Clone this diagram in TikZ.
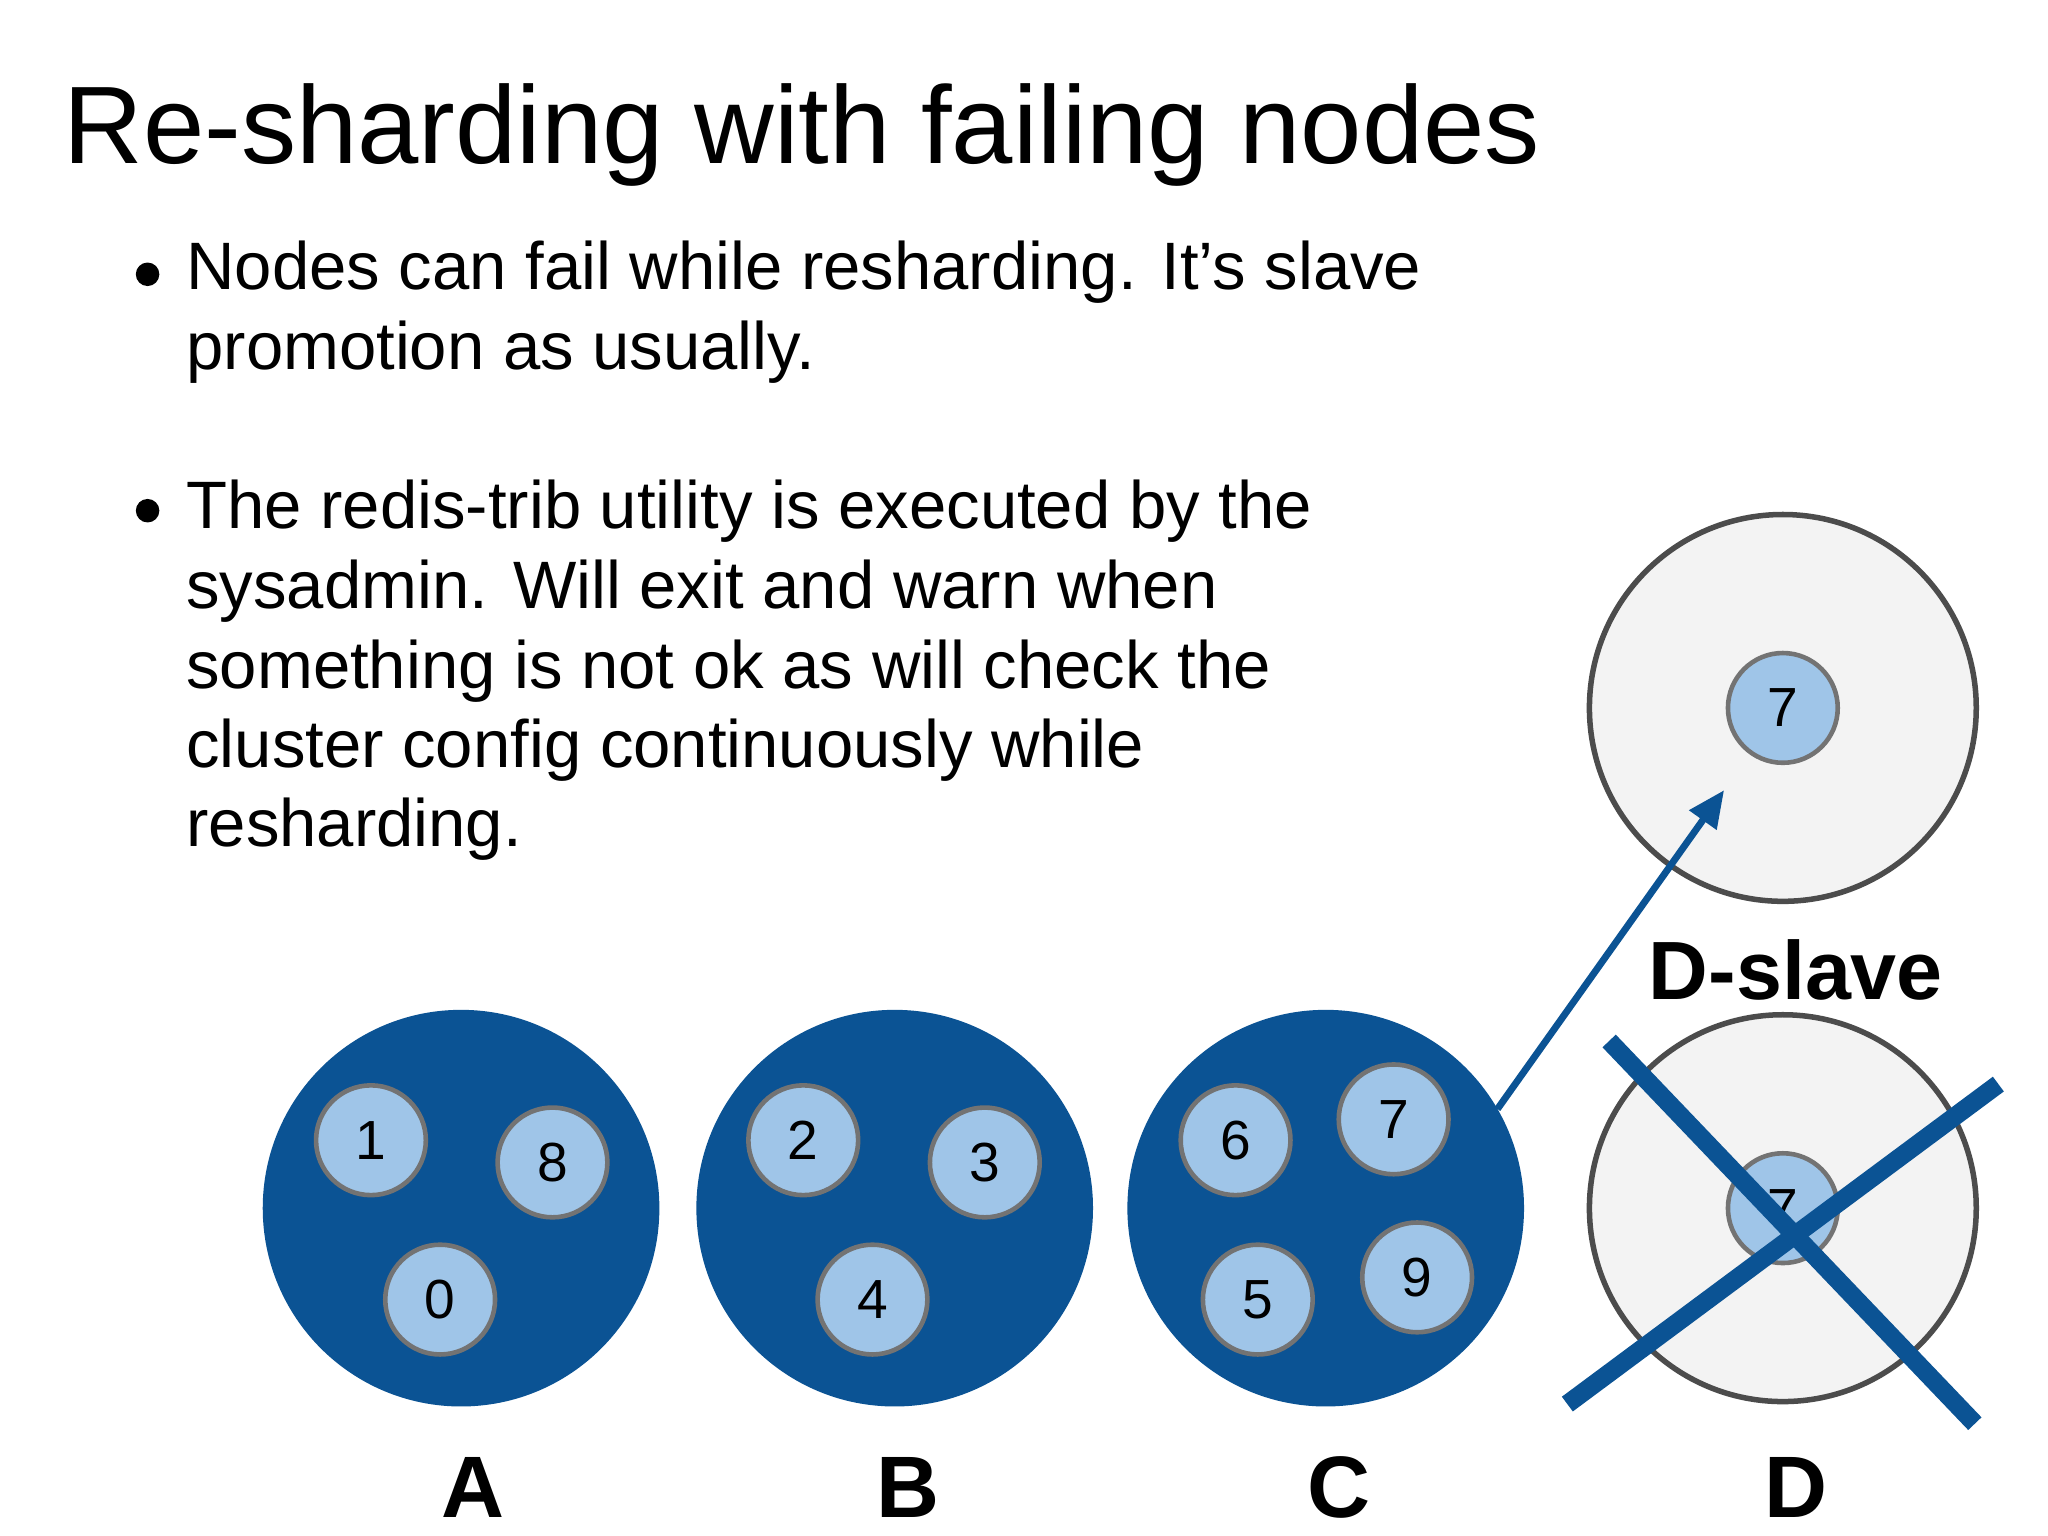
\documentclass[tikz,border=0pt]{standalone}
\usepackage{fontspec}
\setmainfont{Liberation Sans}
\usetikzlibrary{arrows.meta}
\definecolor{dblue}{HTML}{0B5394}
\definecolor{lblue}{HTML}{9FC5E8}
\definecolor{lgray}{HTML}{F3F3F3}
\begin{document}
\begin{tikzpicture}[x=0.01cm,y=-0.01cm,
 big/.style={circle,draw=dblue,line width=1pt,fill=dblue,minimum size=3cm,inner sep=0},
 dead/.style={circle,draw=black!70,line width=1.2pt,fill=lgray,minimum size=2.96cm,inner sep=0},
 sm/.style={circle,draw=black!55,line width=1pt,fill=lblue,minimum size=0.84cm,inner sep=0,font=\fontsize{12}{14}\selectfont},
 txt/.style={anchor=base west,inner sep=0,font=\fontsize{14.6}{17}\selectfont},
 lab/.style={anchor=base,inner sep=0,font=\fontsize{19}{22}\bfseries\selectfont}]
\fill[white] (0,0) rectangle (1568,1176);
\node[anchor=base west,inner sep=0,font=\fontsize{24}{28}\selectfont] (title) at (48,125) {Re-sharding with failing nodes};
\fill (113,210) circle (9);
\fill (113,391) circle (9);
\node[txt] (l1) at (142,222) {Nodes can fail while resharding. It's slave};
\node[txt] (l2) at (142,283) {promotion as usually.};
\node[txt] (l3) at (142,405) {The redis-trib utility is executed by the};
\node[txt] (l4) at (142,466) {sysadmin. Will exit and warn when};
\node[txt] (l5) at (142,527) {something is not ok as will check the};
\node[txt] (l6) at (142,588) {cluster config continuously while};
\node[txt] (l7) at (142,648) {resharding.};
\node[big] (A) at (353,925) {};
\node[big] (B) at (685,925) {};
\node[big] (C) at (1015,925) {};
\node[dead] (D) at (1365,925) {};
\node[dead] (DS) at (1365,542) {};
\node[sm] (a1) at (284,873) {1};
\node[sm] (a8) at (423,890) {8};
\node[sm] (a0) at (337,995) {0};
\node[sm] (b2) at (615,873) {2};
\node[sm] (b3) at (754,890) {3};
\node[sm] (b4) at (668,995) {4};
\node[sm] (c6) at (946,873) {6};
\node[sm] (c7) at (1067,857) {7};
\node[sm] (c5) at (963,995) {5};
\node[sm] (c9) at (1085,978) {9};
\node[sm] (d7) at (1365,925) {7};
\node[sm] (s7) at (1365,542) {7};
\coordinate (ae) at (1320,605);
\draw[dblue,line width=1.5pt,-{Triangle[length=8pt,width=7pt]}] (C.30) -- (ae);
\draw[dblue,line width=4pt] (1232,797) -- (1512,1090);
\draw[dblue,line width=4pt] (1200,1075) -- (1530,830);
\node[lab,font=\fontsize{18}{22}\bfseries\selectfont] (dsl) at (1375,765) {D-slave};
\node[lab] (LA) at (362,1162) {A};
\node[lab] (LB) at (695,1162) {B};
\node[lab] (LC) at (1025,1162) {C};
\node[lab] (LD) at (1375,1162) {D};
\end{tikzpicture}
\end{document}
